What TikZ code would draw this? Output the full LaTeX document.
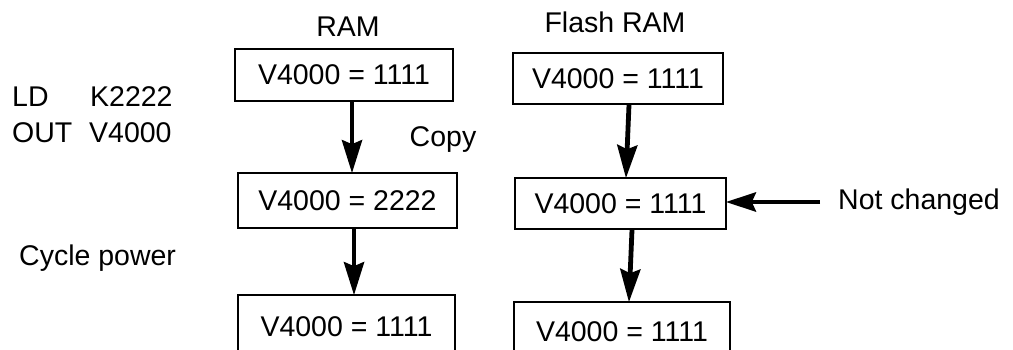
\documentclass[tikz,border=0pt]{standalone}
\usepackage{fontspec}
\setmainfont{Liberation Sans}
\usetikzlibrary{arrows.meta}
\tikzset{
  lbl/.style={inner sep=0pt, font=\fontsize{28.5}{34}\selectfont},
  memcell/.style={draw, line width=1.6pt, inner sep=0pt, font=\fontsize{28.5}{34}\selectfont},
  arr/.style={line width=4.8pt, -{Stealth[length=33pt,width=20pt,inset=4pt]}, shorten >=-1pt}
}
\begin{document}
\begin{tikzpicture}[x=1pt,y=-1pt]
\clip (0,0) rectangle (1013,349);
\fill[white] (0,0) rectangle (1013,349);
% headings
\node[lbl] (hram) at (348,27) {RAM};
\node[lbl] (hflash) at (615,22) {Flash RAM};
% left texts
\node[lbl, anchor=west] (ld) at (12,97) {LD};
\node[lbl, anchor=west] (k2) at (90,97) {K2222};
\node[lbl, anchor=west] (out) at (12,133) {OUT};
\node[lbl, anchor=west] (v4) at (89,133) {V4000};
\node[lbl] (copy) at (443,140) {Copy};
\node[lbl, anchor=west] (cyc) at (19,258) {Cycle power};
\node[lbl, anchor=west] (nc) at (838,202) {Not changed};
% RAM column
\node[memcell, minimum width=218, minimum height=52] (r1) at (344,75) {V4000 = 1111};
\node[memcell, minimum width=219, minimum height=55] (r2) at (347.5,200.5) {V4000 = 2222};
\node[memcell, minimum width=217, minimum height=64] (r3) at (346.5,327) {V4000 = 1111};
% Flash column
\node[memcell, minimum width=210, minimum height=51] (f1) at (618,78.5) {V4000 = 1111};
\node[memcell, minimum width=211, minimum height=51] (f2) at (620.5,203.5) {V4000 = 1111};
\node[memcell, minimum width=216, minimum height=60] (f3) at (622,332) {V4000 = 1111};
% arrows
\coordinate (ax1) at (352,0);
\coordinate (ax2) at (354,0);
\draw[arr] (r1.south -| ax1) -- (r2.north -| ax1);
\draw[arr] (r2.south -| ax2) -- (r3.north -| ax2);
\coordinate (bx1) at (629,0);
\coordinate (bx2) at (626,0);
\coordinate (bx3) at (632,0);
\coordinate (bx4) at (629,0);
\draw[arr] (f1.south -| bx1) -- (f2.north -| bx2);
\draw[arr] (f2.south -| bx3) -- (f3.north -| bx4);
\coordinate (ncs) at (820,202);
\draw[arr, -{Stealth[length=30pt,width=19pt,inset=4pt]}] (ncs) -- (f2.east |- ncs);
\end{tikzpicture}
\end{document}
